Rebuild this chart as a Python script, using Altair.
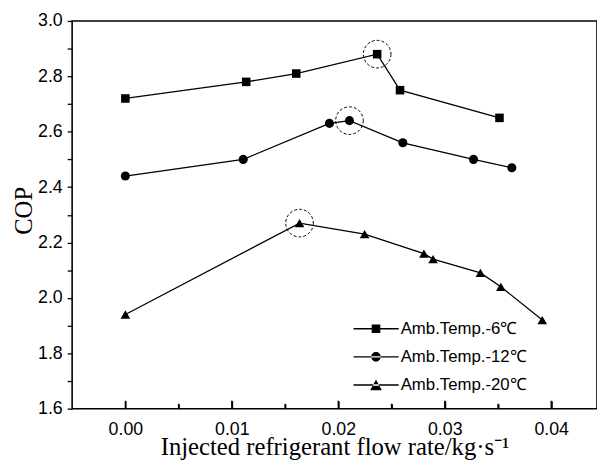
import altair as alt
import pandas as pd

series_names = ["Amb.Temp.-6℃", "Amb.Temp.-12℃", "Amb.Temp.-20℃"]
x_m6 = [0.0, 0.01135, 0.01605, 0.02365, 0.0258, 0.03514]
y_m6 = [2.72, 2.78, 2.81, 2.88, 2.75, 2.65]
x_m12 = [0.0, 0.01107, 0.01917, 0.02105, 0.02606, 0.0327, 0.0363]
y_m12 = [2.44, 2.50, 2.63, 2.64, 2.56, 2.50, 2.47]
x_m20 = [0.0, 0.01636, 0.02247, 0.02804, 0.0289, 0.03335, 0.03527, 0.03916]
y_m20 = [1.94, 2.27, 2.23, 2.16, 2.14, 2.09, 2.04, 1.92]
peak_x = [0.02365, 0.02105, 0.01636]
peak_y = [2.88, 2.64, 2.27]
x_major_ticks = [0.0, 0.01, 0.02, 0.03, 0.04]
x_minor_ticks = [0.005, 0.015, 0.025, 0.035]
y_major_ticks = [1.6, 1.8, 2.0, 2.2, 2.4, 2.6, 2.8, 3.0]
y_minor_ticks = [1.7, 1.9, 2.1, 2.3, 2.5, 2.7, 2.9]

rows = []
for name, xs_, ys_ in zip(series_names, [x_m6, x_m12, x_m20], [y_m6, y_m12, y_m20]):
    for i, (a, b) in enumerate(zip(xs_, ys_)):
        rows.append({"series": name, "x": a, "y": b, "idx": i})
df = pd.DataFrame(rows)
peaks = pd.DataFrame({"x": peak_x, "y": peak_y})
major_df = pd.DataFrame({"x": x_major_ticks, "y": [1.6] * len(x_major_ticks)})
minor_df = pd.DataFrame({"x": x_minor_ticks, "y": [1.6] * len(x_minor_ticks)})

W, H = 532, 393
X_DOM = [-0.005, 0.0443]
Y_DOM = [1.6, 3.0]
xsc = alt.Scale(domain=X_DOM, nice=False, zero=False)
ysc = alt.Scale(domain=Y_DOM, nice=False, zero=False)

LBL = dict(labelFont="Liberation Sans", labelFontSize=18, labelColor="black")

x_main = alt.X("x:Q", scale=xsc, axis=alt.Axis(
    orient="bottom", values=x_major_ticks, format=".2f", ticks=False, domain=False,
    grid=False, labelPadding=12, **LBL,
    title="Injected refrigerant flow rate/kg·s⁻¹", titleFont="Liberation Serif",
    titleFontSize=25, titleFontWeight="normal", titleColor="black",
    titleBaseline="alphabetic", titleY=46))
y_main = alt.Y("y:Q", scale=ysc, axis=alt.Axis(
    orient="left", values=y_major_ticks, format=".1f", tickSize=5, tickColor="black",
    tickWidth=1.3, domain=False, grid=False, labelPadding=5, **LBL,
    title="COP", titleFont="Liberation Serif", titleFontSize=25,
    titleFontWeight="normal", titleColor="black", titleX=-49, titleY=192,
    titleBaseline="middle"))

xn = alt.X("x:Q", scale=xsc, axis=None)
yn = alt.Y("y:Q", scale=ysc, axis=None)

# inward x ticks: bottom axes with a negative tick length given as an expression
x_major_axis = alt.X("x:Q", scale=xsc, axis=alt.Axis(
    orient="bottom", values=x_major_ticks, labels=False, domain=False, grid=False,
    title=None, tickSize=alt.ExprRef("-8"), tickColor="black", tickWidth=1.4))
x_minor_axis = alt.X("x:Q", scale=xsc, axis=alt.Axis(
    orient="bottom", values=x_minor_ticks, labels=False, domain=False, grid=False,
    title=None, tickSize=alt.ExprRef("-5"), tickColor="black", tickWidth=1.4))

lines = alt.Chart(df).mark_line(color="black", strokeWidth=1.3).encode(
    x=x_main, y=y_main, detail="series:N", order="idx:Q")

points = alt.Chart(df).mark_point(filled=True, color="black", opacity=1).encode(
    x=x_minor_axis, y=yn,
    shape=alt.Shape("series:N", scale=alt.Scale(domain=series_names,
                    range=["square", "circle", "triangle-up"]), legend=None),
    size=alt.Size("series:N", scale=alt.Scale(domain=series_names,
                  range=[75, 95, 144]), legend=None))

rings = alt.Chart(peaks).mark_point(shape="circle", size=784, filled=False,
                                    color="black", strokeWidth=1, opacity=1,
                                    strokeDash=[3, 2]).encode(x=xn, y=yn)

y_minor = alt.Chart(df).mark_point(opacity=0).encode(
    x=x_major_axis,
    y=alt.Y("y:Q", scale=ysc, axis=alt.Axis(orient="left", values=y_minor_ticks,
            labels=False, domain=False, grid=False, tickSize=5, tickColor="black",
            tickWidth=1.3, title=None)))

major_rules = alt.Chart(major_df).mark_rule(color="black", strokeWidth=1.4,
                                            y2Offset=-8).encode(x=xn, y=yn, y2="y:Q")
minor_rules = alt.Chart(minor_df).mark_rule(color="black", strokeWidth=1.4,
                                            y2Offset=-5).encode(x=xn, y=yn, y2="y:Q")

line_bar = "M-1,-0.03H1V0.03H-1Z"
legend_paths = [
    line_bar + "M-0.19,-0.19H0.19V0.19H-0.19Z",
    line_bar + "M-0.21,0A0.21,0.21,0,1,0,0.21,0A0.21,0.21,0,1,0,-0.21,0Z",
    line_bar + "M0,-0.23L-0.26,0.23L0.26,0.23Z",
]
legend_layer = alt.Chart(df).mark_point(filled=True, color="black", opacity=0).encode(
    x=xn, y=yn,
    shape=alt.Shape("series:N", scale=alt.Scale(domain=series_names, range=legend_paths),
                    legend=alt.Legend(title=None, orient="none", legendX=285, legendY=304,
                                      symbolSize=2116, symbolOpacity=1,
                                      symbolFillColor="black", symbolStrokeWidth=0,
                                      clipHeight=16, rowPadding=11.5, labelOffset=2,
                                      padding=0, labelFont="Liberation Sans",
                                      labelFontSize=17, labelColor="black")))

chart = alt.layer(lines, points, rings, y_minor, major_rules, minor_rules, legend_layer).resolve_scale(
    shape="independent", size="independent").resolve_axis(x="independent", y="independent").properties(
    width=W, height=H, autosize=alt.AutoSizeParams(type="none"),
    padding={"left": 65, "top": 10, "right": 0, "bottom": 55},
    background="white"
).configure_view(stroke="black", strokeWidth=1.6)

chart.save("out.html", embed_options={"renderer": "svg", "actions": False})
